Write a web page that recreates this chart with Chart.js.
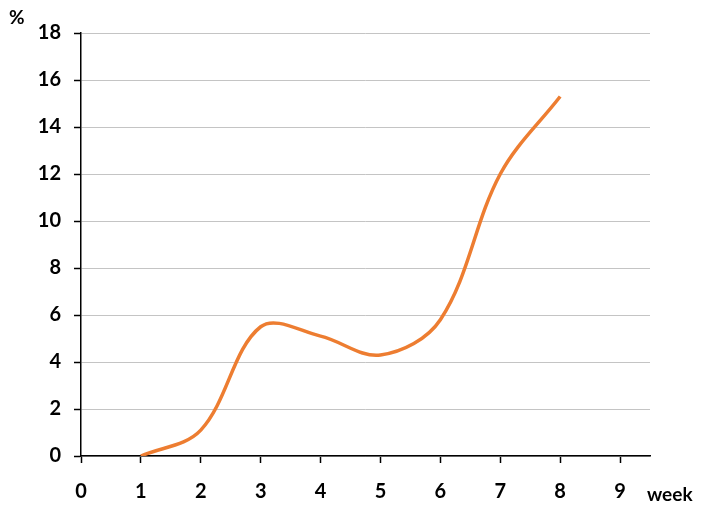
<!DOCTYPE html>
<html>
<head>
<meta charset="utf-8">
<script src="https://cdn.jsdelivr.net/npm/chart.js@4.4.1/dist/chart.umd.min.js"></script>
<style>
  html, body { margin: 0; padding: 0; background: #fff; }
  #wrap { width: 703px; height: 516px; }
</style>
</head>
<body>
<div id="wrap"><canvas id="c" width="703" height="516"></canvas></div>
<script>
// weekly values
const weeks = [1, 2, 3, 4, 5, 6, 7, 8];
const percent = [0, 1.1, 5.5, 5.1, 4.3, 5.8, 12.0, 15.3];
const xTicks = [0, 1, 2, 3, 4, 5, 6, 7, 8, 9];
const yTicks = [0, 2, 4, 6, 8, 10, 12, 14, 16, 18];

const FONT = 'Lato, "Open Sans", sans-serif';

// extra labels: "%" above the y axis and "week" after the x axis
const axisTitles = {
  id: 'axisTitles',
  afterDraw(chart) {
    const ctx = chart.ctx;
    const x = chart.scales.x;
    ctx.save();
    ctx.fillStyle = '#000';
    ctx.font = 'bold 19px ' + FONT;
    ctx.textBaseline = 'middle';
    ctx.textAlign = 'left';
    ctx.fillText('%', 9, 18);
    ctx.fillText('week', x.right - 3, 495);
    ctx.restore();
  }
};

new Chart(document.getElementById('c'), {
  type: 'line',
  data: {
    datasets: [{
      data: weeks.map((w, i) => ({ x: w, y: percent[i] })),
      borderColor: '#ED7D31',
      borderWidth: 3.5,
      pointRadius: 0,
      tension: 0.35,
      fill: false
    }]
  },
  options: {
    responsive: false,
    animation: false,
    layout: { padding: { top: 33, right: 53, left: 0, bottom: 0 } },
    plugins: { legend: { display: false }, tooltip: { enabled: false } },
    scales: {
      x: {
        type: 'linear',
        min: 0,
        max: 9.5,
        afterBuildTicks: (scale) => { scale.ticks = xTicks.map(v => ({ value: v })); },
        afterFit: (scale) => { scale.height = 60; },
        grid: { drawOnChartArea: false, tickLength: 7, tickColor: '#000', tickWidth: 1.5 },
        border: { color: '#000', width: 1.5 },
        ticks: { color: '#000', font: { family: FONT, size: 20, weight: 'bold' }, padding: 17, maxRotation: 0 }
      },
      y: {
        min: 0,
        max: 18,
        afterBuildTicks: (scale) => { scale.ticks = yTicks.map(v => ({ value: v })); },
        afterFit: (scale) => { scale.width = 81; },
        grid: { color: '#c4c4c4', lineWidth: 1, tickLength: 7, tickColor: '#000', tickWidth: 1.5 },
        border: { color: '#000', width: 1.5 },
        ticks: { color: '#000', font: { family: FONT, size: 20, weight: 'bold' }, padding: 13 }
      }
    }
  },
  plugins: [axisTitles]
});
</script>
</body>
</html>
